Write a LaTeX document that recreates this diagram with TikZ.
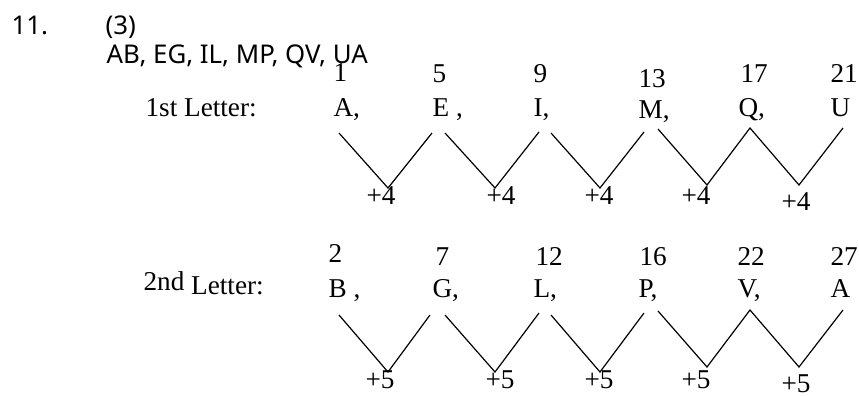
\documentclass[tikz,border=0pt]{standalone}
\usepackage{fontspec}
\setmainfont{Liberation Serif}
\newfontfamily\headfont{Noto Sans}
\usetikzlibrary{positioning}

\begin{document}
\begin{tikzpicture}[x=0.5pt,y=-0.5pt,line width=0.6pt,
    every node/.style={inner sep=0pt,anchor=base west,font=\fontsize{13.6}{16}\selectfont},
    head/.style={font=\headfont\fontsize{12.9}{15}\selectfont},
    step label/.style={anchor=base}]
  \useasboundingbox (0,0) rectangle (859,396);

  % heading
  \node[head] (qno) at (11,34) {11.};
  \node[head] (ans) at (105,34) {(3)};
  \node[head] (series) at (106,63) {AB, EG, IL, MP, QV, UA};

  % first letters
  \node (first) at (145,117) {1st Letter:};
  \node (n1) at (333,82) {1};
  \node (n5) at (432,83) {5};
  \node (n9) at (533,83) {9};
  \node (n13) at (638,87) {13};
  \node (n17) at (740,83) {17};
  \node (n21) at (830,83) {21};
  \node (A) at (333,117) {A,};
  \node (E) at (432,116) {E ,};
  \node (I) at (533,116) {I,};
  \node (M) at (638,119) {M,};
  \node (Q) at (738,116) {Q,};
  \node (U) at (830,116) {U};

  \coordinate (fa1) at (339,133); \coordinate (fb1) at (388,188); \coordinate (fc1) at (432,133);
  \coordinate (fa2) at (445,133); \coordinate (fb2) at (495,188); \coordinate (fc2) at (539,132);
  \coordinate (fa3) at (551,133); \coordinate (fb3) at (600,188); \coordinate (fc3) at (644,132);
  \coordinate (fa4) at (658,129); \coordinate (fb4) at (707,185); \coordinate (fc4) at (750,128);
  \coordinate (fb5) at (799,185); \coordinate (fc5) at (843,128);
  \draw (fa1)--(fb1)--(fc1);
  \draw (fa2)--(fb2)--(fc2);
  \draw (fa3)--(fb3)--(fc3);
  \draw (fa4)--(fb4)--(fc4)--(fb5)--(fc5);

  \node[step label] (p41) at (381,205) {+4};
  \node[step label] (p42) at (501,205) {+4};
  \node[step label] (p43) at (599,205) {+4};
  \node[step label] (p44) at (696,205) {+4};
  \node[step label] (p45) at (796,210) {+4};

  % second letters
  \node (second) at (143,290) {2nd\raisebox{-2pt}{ Letter:}};
  \node (n2) at (328,263) {2};
  \node (n7) at (435,265) {7};
  \node (n12) at (535,265) {12};
  \node (n16) at (639,265) {16};
  \node (n22) at (737,265) {22};
  \node (n27) at (830,265) {27};
  \node (B) at (328,297) {B ,};
  \node (G) at (432,297) {G,};
  \node (L) at (533,297) {L,};
  \node (P) at (638,297) {P,};
  \node (V) at (737,297) {V,};
  \node (A2) at (830,297) {A};

  \coordinate (sa1) at (339,315); \coordinate (sb1) at (388,372); \coordinate (sc1) at (430,315);
  \coordinate (sa2) at (445,315); \coordinate (sb2) at (495,372); \coordinate (sc2) at (539,313);
  \coordinate (sa3) at (551,315); \coordinate (sb3) at (600,372); \coordinate (sc3) at (644,313);
  \coordinate (sa4) at (658,311); \coordinate (sb4) at (707,367); \coordinate (sc4) at (750,310);
  \coordinate (sb5) at (799,367); \coordinate (sc5) at (843,310);
  \draw (sa1)--(sb1)--(sc1);
  \draw (sa2)--(sb2)--(sc2);
  \draw (sa3)--(sb3)--(sc3);
  \draw (sa4)--(sb4)--(sc4)--(sb5)--(sc5);

  \node[step label] (p51) at (380,388) {+5};
  \node[step label] (p52) at (500,388) {+5};
  \node[step label] (p53) at (599,388) {+5};
  \node[step label] (p54) at (696,388) {+5};
  \node[step label] (p55) at (796,392) {+5};
\end{tikzpicture}
\end{document}
